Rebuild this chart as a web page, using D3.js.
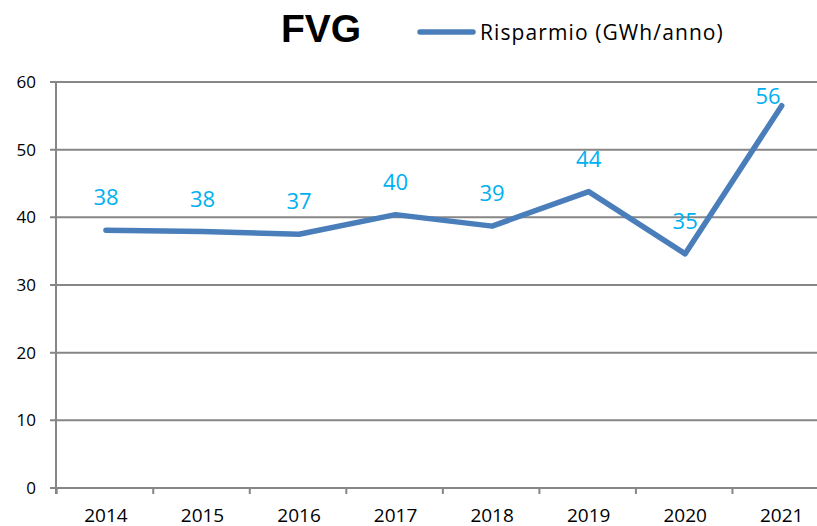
<!DOCTYPE html>
<html>
<head>
<meta charset="utf-8">
<script src="https://cdn.jsdelivr.net/npm/d3@7"></script>
<style>
  body { margin: 0; background: #fff; }
  svg { display: block; }
</style>
</head>
<body>
<svg id="chart" width="817" height="526"></svg>
<script>
// data
const years = ["2014", "2015", "2016", "2017", "2018", "2019", "2020", "2021"];
const risparmio = [38.1, 37.9, 37.5, 40.4, 38.7, 43.8, 34.6, 56.5];
const labels = ["38", "38", "37", "40", "39", "44", "35", "56"];
const yTicks = [0, 10, 20, 30, 40, 50, 60];

const width = 817, height = 526;
const marginLeft = 57.7, plotRight = 830, marginTop = 82, plotBottom = 488;
const labelRightLimit = 782; // labels are kept inside the visible chart area
const lineColor = "#4A7EBB";
const gridColor = "#868686";

const svg = d3.select("#chart");

const x = d3.scaleBand()
  .domain(years)
  .range([marginLeft, plotRight]);

const y = d3.scaleLinear()
  .domain([0, 60])
  .range([plotBottom, marginTop]);

// gridlines
svg.append("g")
  .selectAll("line")
  .data(yTicks)
  .enter()
  .append("line")
  .attr("x1", 50)
  .attr("x2", width)
  .attr("y1", d => y(d))
  .attr("y2", d => y(d))
  .style("stroke", gridColor)
  .style("stroke-width", 2);

// y axis line
svg.append("line")
  .attr("x1", 56).attr("x2", 56)
  .attr("y1", y(60)).attr("y2", plotBottom + 6)
  .style("stroke", gridColor)
  .style("stroke-width", 2);

// y tick labels
const yAxis = d3.axisLeft(y).tickValues(yTicks).tickSize(0).tickPadding(20);
const yG = svg.append("g")
  .attr("class", "y axis")
  .attr("transform", "translate(56,0)")
  .call(yAxis);
yG.select(".domain").remove();
yG.selectAll("text")
  .style("font-family", "'Open Sans', sans-serif")
  .style("font-size", "17px")
  .style("fill", "#000");

// x tick marks at category boundaries
svg.append("g")
  .selectAll("line")
  .data(years)
  .enter()
  .append("line")
  .attr("x1", d => x(d) - 1)
  .attr("x2", d => x(d) - 1)
  .attr("y1", plotBottom)
  .attr("y2", plotBottom + 6)
  .style("stroke", gridColor)
  .style("stroke-width", 2);

// x labels
const xAxis = d3.axisBottom(x).tickSize(0).tickPadding(21);
const xG = svg.append("g")
  .attr("class", "x axis")
  .attr("transform", "translate(0," + plotBottom + ")")
  .call(xAxis);
xG.select(".domain").remove();
xG.selectAll("text")
  .style("font-family", "'Liberation Sans Narrow', 'Open Sans', sans-serif")
  .style("font-size", "19px")
  .style("fill", "#000");

// line
const line = d3.line()
  .x((d, i) => x(years[i]) + x.bandwidth() / 2)
  .y(d => y(d));

svg.append("path")
  .datum(risparmio)
  .attr("d", line)
  .style("fill", "none")
  .style("stroke", lineColor)
  .style("stroke-width", 5.5)
  .style("stroke-linejoin", "round")
  .style("stroke-linecap", "round");

// data labels (kept inside the plot area, like Excel does)
svg.append("g")
  .selectAll("text")
  .data(risparmio)
  .enter()
  .append("text")
  .attr("x", (d, i) => Math.min(x(years[i]) + x.bandwidth() / 2, labelRightLimit - 14))
  .attr("y", d => Math.max(y(d) - 25, marginTop + 22))
  .attr("text-anchor", "middle")
  .text((d, i) => labels[i])
  .style("fill", "#00B0F0")
  .style("font-family", "'Open Sans', sans-serif")
  .style("font-size", "22px");

// title
svg.append("text")
  .attr("x", 321)
  .attr("y", 42)
  .attr("text-anchor", "middle")
  .text("FVG")
  .style("font-family", "'Liberation Sans', Arial, sans-serif")
  .style("font-weight", "bold")
  .style("font-size", "39px")
  .style("fill", "#000");

// legend
svg.append("line")
  .attr("x1", 420).attr("x2", 473)
  .attr("y1", 32).attr("y2", 32)
  .style("stroke", lineColor)
  .style("stroke-width", 5.5)
  .style("stroke-linecap", "round");

svg.append("text")
  .attr("x", 480)
  .attr("y", 40)
  .text("Risparmio (GWh/anno)")
  .style("font-family", "'Open Sans', sans-serif")
  .style("font-size", "21px")
  .style("letter-spacing", "1.1px")
  .style("fill", "#000");
</script>
</body>
</html>
